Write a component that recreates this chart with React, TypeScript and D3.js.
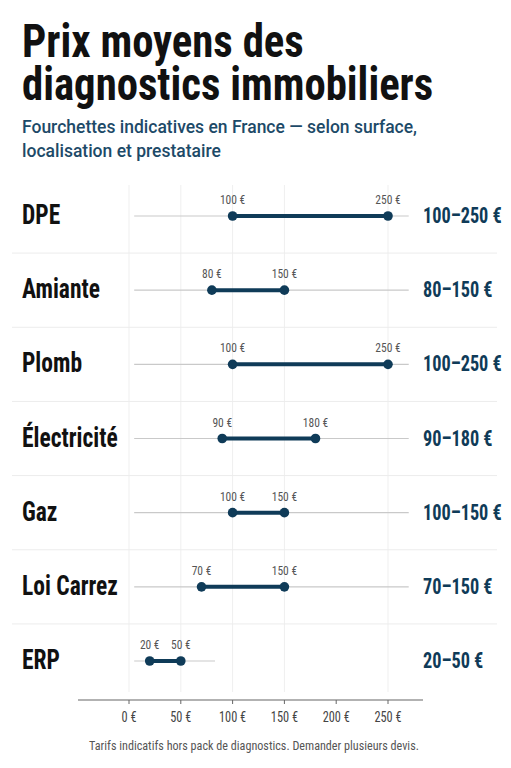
import React from "react";
import * as d3 from "d3";

const categories = ["DPE", "Amiante", "Plomb", "Électricité", "Gaz", "Loi Carrez", "ERP"];
const minValues = [100, 80, 100, 90, 100, 70, 20];
const maxValues = [250, 150, 250, 180, 150, 150, 50];
const trackEnds = [270, 270, 270, 270, 270, 270, 83];
const trackStart = 5;
const axisTicks = [0, 50, 100, 150, 200, 250];
const gridValues = [0, 50, 100, 150, 250];

const titleLines = ["Prix moyens des", "diagnostics immobiliers"];
const subtitleLines = ["Fourchettes indicatives en France — selon surface,", "localisation et prestataire"];
const footer = "Tarifs indicatifs hors pack de diagnostics. Demander plusieurs devis.";

const W = 511;
const H = 768;
const COND = "'Liberation Sans Narrow', 'Roboto Condensed', 'DejaVu Sans Condensed', Roboto, sans-serif";
const SANS = "Roboto, 'Noto Sans', sans-serif";
const NAVY = "#0f3b58";

function CText({ x, y, sx = 0.87, anchor = "start", size, weight = 400, fill, children }: any) {
  return (
    <text
      transform={`translate(${x},${y}) scale(${sx},1)`}
      textAnchor={anchor}
      fontFamily={COND}
      fontSize={size}
      fontWeight={weight}
      fill={fill}
    >
      {children}
    </text>
  );
}

export default function App() {
  const x = d3.scaleLinear().domain([0, 250]).range([129, 388]);
  const y = d3.scalePoint<string>().domain(categories).range([216, 661]);
  const step = y.step();
  const axisY = 700;
  const axisLeft = 78;
  const axisRight = 423;
  const lineGen = d3.line<[number, number]>().x((d) => d[0]).y((d) => d[1]);

  return (
    <svg
      width={W}
      height={H}
      style={{ position: "absolute", left: 0, top: 0, background: "#fff" }}
    >
      <rect width={W} height={H} fill="#fff" />
      <CText x={22} y={57} size={47} weight={700} fill="#111" sx={0.91}>
        {titleLines.map((t, i) => (
          <tspan key={t} x={0} dy={i === 0 ? 0 : 43}>
            {t}
          </tspan>
        ))}
      </CText>
      <text fontFamily={SANS} fontSize={17.5} fontWeight={500} fill="#1d4a68">
        {subtitleLines.map((t, i) => (
          <tspan key={t} x={22} y={133 + i * 24}>
            {t}
          </tspan>
        ))}
      </text>

      {gridValues.map((v) => (
        <line key={v} x1={x(v)} x2={x(v)} y1={185} y2={692} stroke="#efefef" strokeWidth={1} />
      ))}
      {categories.slice(0, -1).map((c) => (
        <line
          key={c}
          x1={12}
          x2={497}
          y1={(y(c) as number) + step / 2}
          y2={(y(c) as number) + step / 2}
          stroke="#ececec"
          strokeWidth={1}
        />
      ))}

      {categories.map((c, i) => {
        const cy = y(c) as number;
        const x0 = x(minValues[i]);
        const x1 = x(maxValues[i]);
        return (
          <g key={c}>
            <CText x={22} y={cy + 8} size={28} weight={700} fill="#111" sx={0.84}>
              {c}
            </CText>
            <path
              d={lineGen([[x(trackStart), cy], [x(trackEnds[i]), cy]]) || ""}
              stroke="#c9c9c9"
              strokeWidth={1.2}
              fill="none"
            />
            <path d={lineGen([[x0, cy], [x1, cy]]) || ""} stroke={NAVY} strokeWidth={4} fill="none" />
            <circle cx={x0} cy={cy} r={4.8} fill={NAVY} />
            <circle cx={x1} cy={cy} r={4.8} fill={NAVY} />
            <CText x={x0} y={cy - 12} anchor="middle" size={12.5} fill="#555" sx={0.92}>
              {`${minValues[i]} €`}
            </CText>
            <CText x={x1} y={cy - 12} anchor="middle" size={12.5} fill="#555" sx={0.92}>
              {`${maxValues[i]} €`}
            </CText>
            <CText x={423} y={cy + 7} size={22} weight={700} fill={NAVY} sx={0.83}>
              {`${minValues[i]}–${maxValues[i]} €`}
            </CText>
          </g>
        );
      })}

      <line x1={axisLeft} x2={axisRight} y1={axisY} y2={axisY} stroke="#666" strokeWidth={1.2} />
      {axisTicks.map((v) => (
        <g key={v}>
          <line x1={x(v)} x2={x(v)} y1={axisY} y2={axisY + 4} stroke="#666" strokeWidth={1} />
          <CText x={x(v)} y={axisY + 22} anchor="middle" size={14} fill="#444" sx={0.88}>
            {`${v} €`}
          </CText>
        </g>
      ))}

      <CText x={254} y={750} anchor="middle" size={13.5} fill="#555" sx={0.9}>
        {footer}
      </CText>
    </svg>
  );
}
